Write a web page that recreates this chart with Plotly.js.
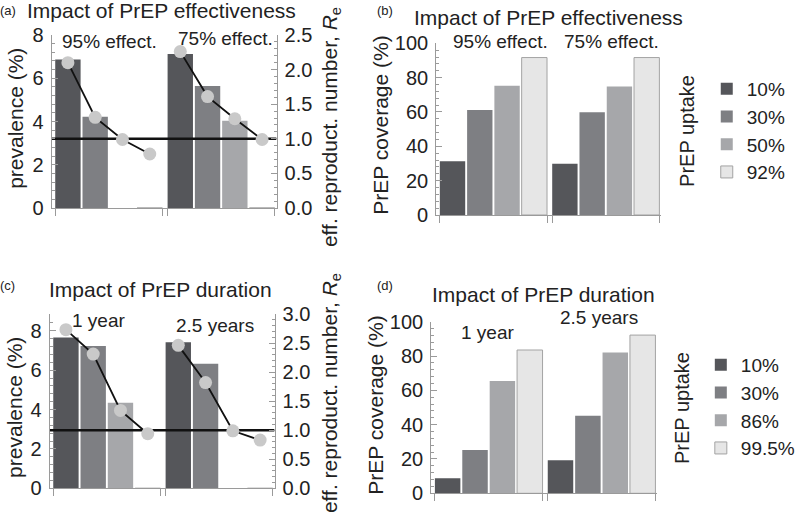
<!DOCTYPE html>
<html>
<head>
<meta charset="utf-8">
<script src="https://cdn.plot.ly/plotly-3.0.1.min.js"></script>
<style>html,body{margin:0;padding:0;background:#fff;}#chart{width:800px;height:525px;}</style>
</head>
<body>
<div id="chart"></div>
<script>
// ---------------- data ----------------
const groupsEff = ['95% effect.', '75% effect.'];
const groupsDur = ['1 year', '2.5 years'];
const uptakeB = ['10%', '30%', '50%', '92%'];
const uptakeD = ['10%', '30%', '86%', '99.5%'];

// (a) prevalence (%) per uptake level, [95% effect., 75% effect.]
const prevA_10 = [6.87, 7.12];
const prevA_30 = [4.22, 5.64];
const prevA_50 = [0, 4.03];
const prevA_92 = [0, 0];
// (a) effective reproduction number per uptake level
const reA_95 = [2.10, 1.31, 0.99, 0.78];
const reA_75 = [2.26, 1.61, 1.29, 0.99];

// (b) PrEP coverage (%)
const covB_10 = [31.3, 29.9];
const covB_30 = [61.2, 59.8];
const covB_50 = [75.3, 74.8];
const covB_92 = [91.7, 91.7];

// (c) prevalence (%), [1 year, 2.5 years]
const prevC_10 = [7.66, 7.41];
const prevC_30 = [7.22, 6.33];
const prevC_86 = [4.35, 0];
const prevC_995 = [0, 0];
const reC_1y = [2.73, 2.31, 1.34, 0.94];
const reC_25y = [2.46, 1.82, 0.99, 0.83];

// (d) PrEP coverage (%)
const covD_10 = [8.7, 19.2];
const covD_30 = [25.2, 45.2];
const covD_86 = [65.4, 82.1];
const covD_995 = [83.5, 92.2];

const threshold = 1.0;

// ---------------- style ----------------
const FONT = 'Liberation Sans, Arial, Helvetica, sans-serif';
const TXT = '#222';
const colors = ['#55565a', '#7e7f83', '#a6a7aa', '#e6e6e6'];
const lineCols = ['#55565a', '#7e7f83', '#a6a7aa', '#a3a3a3'];
const GROUP_OFFSET = 4.12;
const BAR_W = 0.93;
const XR = [-0.6, 7.65];
const W = 800, H = 525;

function gx(i) { return [i, GROUP_OFFSET + i]; }
function px(x) { return x / W; }
function py(y) { return 1 - y / H; }

const traces = [];
function addBars(seriesList, names, xa, ya, legendName) {
  seriesList.forEach((vals, i) => {
    traces.push({
      type: 'bar', x: gx(i), y: vals, width: BAR_W,
      xaxis: xa, yaxis: ya, name: names[i],
      marker: {color: colors[i], line: {color: lineCols[i], width: i === 3 ? 1 : 0}},
      showlegend: !!legendName, legend: legendName || 'legend',
      hoverinfo: 'skip'
    });
  });
}
function addRe(g1, g2, xa, ya) {
  const xs = [], ys = [];
  g1.forEach((v, i) => { xs.push(i); ys.push(v); });
  xs.push(null); ys.push(null);
  g2.forEach((v, i) => { xs.push(GROUP_OFFSET + i); ys.push(v); });
  traces.push({
    type: 'scatter', mode: 'lines', x: XR, y: [threshold, threshold],
    xaxis: xa, yaxis: ya, line: {color: '#111', width: 2.6}, showlegend: false, hoverinfo: 'skip'
  });
  traces.push({
    type: 'scatter', mode: 'lines+markers', x: xs, y: ys, connectgaps: false,
    xaxis: xa, yaxis: ya, line: {color: '#111', width: 1.8},
    marker: {color: '#c9c9c9', size: 13}, showlegend: false, hoverinfo: 'skip'
  });
}

addBars([prevA_10, prevA_30, prevA_50, prevA_92], uptakeB, 'x', 'y', null);
addRe(reA_95, reA_75, 'x', 'y2');
addBars([covB_10, covB_30, covB_50, covB_92], uptakeB, 'x2', 'y3', 'legend');
addBars([prevC_10, prevC_30, prevC_86, prevC_995], uptakeD, 'x3', 'y4', null);
addRe(reC_1y, reC_25y, 'x3', 'y5');
addBars([covD_10, covD_30, covD_86, covD_995], uptakeD, 'x4', 'y6', 'legend2');

const AXC = '#9a9a9a';
function xAxis(x0, x1, yAnchor) {
  return {
    domain: [px(x0), px(x1)], range: XR, anchor: yAnchor,
    showline: true, linecolor: AXC, linewidth: 1,
    tickvals: [-BAR_W / 2, 3 + BAR_W / 2, GROUP_OFFSET - BAR_W / 2, GROUP_OFFSET + 3 + BAR_W / 2],
    ticks: 'outside', ticklen: 7, tickcolor: AXC, showticklabels: false,
    showgrid: false, zeroline: false, fixedrange: true
  };
}
function yAxis(ytop, ybot, range, dtick, minor, xAnchor, extra) {
  return Object.assign({
    domain: [py(ybot), py(ytop)], range: range, dtick: dtick, tick0: 0, anchor: xAnchor,
    showline: true, linecolor: AXC, linewidth: 1,
    ticks: 'inside', ticklen: 6, tickcolor: AXC,
    minor: {dtick: minor, ticks: 'inside', ticklen: 3, tickcolor: AXC},
    tickfont: {size: 20, color: TXT, family: FONT}, ticklabelstandoff: 3,
    showgrid: false, zeroline: false, fixedrange: true
  }, extra || {});
}

const ann = [];
function txt(t, x, y, size, extra) {
  ann.push(Object.assign({text: t, x: px(x), y: py(y), xref: 'paper', yref: 'paper',
    xanchor: 'center', yanchor: 'middle', showarrow: false,
    font: {size: size, color: TXT, family: FONT}}, extra || {}));
}
// panel labels
txt('(a)', 8, 10, 13); txt('(b)', 388, 10, 13); txt('(c)', 8, 285, 13); txt('(d)', 388, 285, 13);
// titles
txt('Impact of PrEP effectiveness', 163, 10, 21);
txt('Impact of PrEP effectiveness', 553, 17, 21);
txt('Impact of PrEP duration', 162, 289, 21);
txt('Impact of PrEP duration', 548, 294, 21);
// group labels
txt(groupsEff[0], 110, 42, 19); txt(groupsEff[1], 227, 38, 19);
txt(groupsEff[0], 505, 42, 19); txt(groupsEff[1], 617, 42, 19);
txt(groupsDur[0], 99, 320, 19); txt(groupsDur[1], 217, 325, 19);
txt(groupsDur[0], 492, 332, 19); txt(groupsDur[1], 604, 317, 19);
// axis titles
const rot = {textangle: -90};
txt('prevalence (%)', 16, 118, 21, rot);
txt('prevalence (%)', 14, 407, 21, rot);
txt('eff. reproduct. number, <i>R</i><sub>e</sub>', 334, 127, 21, rot);
txt('eff. reproduct. number, <i>R</i><sub>e</sub>', 334, 393, 21, rot);
txt('PrEP coverage (%)', 383, 125, 21, rot);
txt('PrEP coverage (%)', 378, 405, 21, rot);
txt('PrEP uptake', 693, 131, 20, rot);
txt('PrEP uptake', 688, 408, 20, rot);

const legendStyle = (x, y) => ({
  x: px(x), y: py(y), xanchor: 'left', yanchor: 'top', xref: 'paper', yref: 'paper',
  bgcolor: 'rgba(0,0,0,0)', borderwidth: 0, traceorder: 'normal', itemclick: false,
  font: {size: 19, color: TXT, family: FONT}, tracegroupgap: 0, itemwidth: 30
});

const layout = {
  width: W, height: H, margin: {l: 0, r: 0, t: 0, b: 0},
  paper_bgcolor: '#fff', plot_bgcolor: 'rgba(0,0,0,0)',
  font: {family: FONT, color: TXT},
  barmode: 'overlay',
  xaxis: xAxis(52, 279, 'y'),
  yaxis: yAxis(35, 208, [0, 8], 2, 0.4, 'x'),
  yaxis2: yAxis(35, 208, [0, 2.5], 0.5, 0.1, 'x', {overlaying: 'y', side: 'right', tickformat: '.1f'}),
  xaxis2: xAxis(440, 667, 'y3'),
  yaxis3: yAxis(43.3, 215, [0, 100], 20, 4, 'x2'),
  xaxis3: xAxis(50, 277, 'y4'),
  yaxis4: yAxis(314, 488.3, [0, 8.85], 2, 0.4, 'x3'),
  yaxis5: yAxis(314, 488.3, [0, 3], 0.5, 0.1, 'x3', {overlaying: 'y4', side: 'right', tickformat: '.1f'}),
  xaxis4: xAxis(435, 663, 'y6'),
  yaxis6: yAxis(321.7, 493.3, [0, 100], 20, 4, 'x4'),
  legend: legendStyle(713, 70),
  legend2: legendStyle(707, 346),
  annotations: ann,
  showlegend: true
};

Plotly.newPlot('chart', traces, layout, {displayModeBar: false, staticPlot: true});
</script>
</body>
</html>
